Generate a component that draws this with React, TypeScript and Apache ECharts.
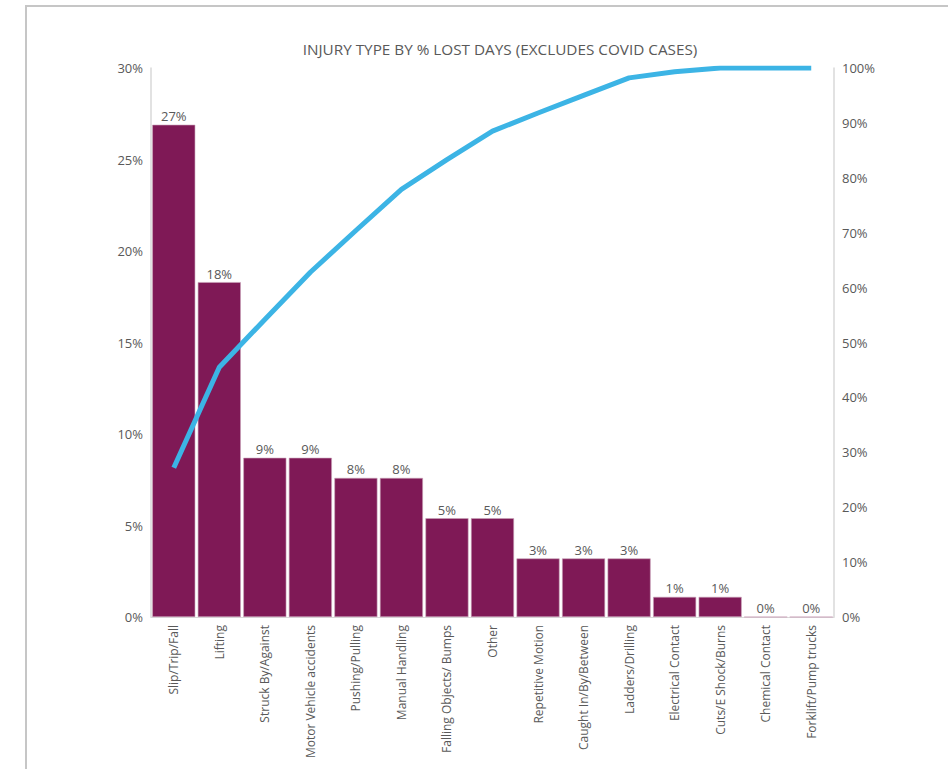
import React, { useEffect, useRef } from "react";
import * as echarts from "echarts";

const categories = [
  "Slip/Trip/Fall",
  "Lifting",
  "Struck By/Against",
  "Motor Vehicle accidents",
  "Pushing/Pulling",
  "Manual Handling",
  "Falling Objects/ Bumps",
  "Other",
  "Repetitive Motion",
  "Caught In/By/Between",
  "Ladders/Drilling",
  "Electrical Contact",
  "Cuts/E Shock/Burns",
  "Chemical Contact",
  "Forklift/Pump trucks",
];
const pctLostDays = [26.9, 18.3, 8.7, 8.7, 7.6, 7.6, 5.4, 5.4, 3.2, 3.2, 3.2, 1.1, 1.1, 0, 0];
const cumulativePct = [27.2, 45.5, 54.2, 62.8, 70.4, 77.9, 83.3, 88.5, 91.8, 95.0, 98.2, 99.3, 100, 100, 100];
const leftTicks = [0, 5, 10, 15, 20, 25, 30];
const rightTicks = [0, 10, 20, 30, 40, 50, 60, 70, 80, 90, 100];

const FONT = "'Open Sans', Lato, sans-serif";
const TEXT = "#595959";

export default function App() {
  const ref = useRef<HTMLDivElement>(null);
  useEffect(() => {
    if (!ref.current) return;
    const chart = echarts.init(ref.current, undefined, { renderer: "svg" });
    chart.setOption({
      animation: false,
      backgroundColor: "#ffffff",
      textStyle: { fontFamily: FONT },
      title: {
        text: "INJURY TYPE BY % LOST DAYS (EXCLUDES COVID CASES)",
        left: 495,
        textAlign: "center",
        top: 36,
        textStyle: { fontFamily: FONT, fontSize: 15.3, fontWeight: "normal", color: TEXT },
      },
      graphic: [
        {
          type: "polyline",
          shape: { points: [[26, 769], [26, 6], [948, 6]] },
          style: { stroke: "#c6c6c6", lineWidth: 2, fill: "none" },
          silent: true,
        },
      ],
      grid: { left: 151, right: 114, top: 68, bottom: 152 },
      xAxis: {
        type: "category",
        data: categories,
        axisLine: { show: true, lineStyle: { color: "#d9d9d9", width: 1 } },
        axisTick: { show: false },
        axisLabel: {
          rotate: 90,
          interval: 0,
          color: TEXT,
          fontSize: 12,
          fontFamily: FONT,
          margin: 8,
        },
      },
      yAxis: [
        {
          type: "value",
          min: leftTicks[0],
          max: leftTicks[leftTicks.length - 1],
          interval: 5,
          axisLine: { show: true, lineStyle: { color: "#d9d9d9", width: 1.5 } },
          axisTick: { show: false },
          splitLine: { show: false },
          axisLabel: { formatter: "{value}%", color: TEXT, fontSize: 13, fontFamily: FONT, margin: 8 },
        },
        {
          type: "value",
          min: rightTicks[0],
          max: rightTicks[rightTicks.length - 1],
          interval: 10,
          position: "right",
          axisLine: { show: true, lineStyle: { color: "#d9d9d9", width: 1.5 } },
          axisTick: { show: false },
          splitLine: { show: false },
          axisLabel: { formatter: "{value}%", color: TEXT, fontSize: 13, fontFamily: FONT, margin: 8 },
        },
      ],
      series: [
        {
          type: "bar",
          data: pctLostDays,
          yAxisIndex: 0,
          barCategoryGap: "5.5%",
          itemStyle: { color: "#7f1956", borderColor: "#c9a3b9", borderWidth: 0.6 },
          label: {
            show: true,
            position: "top",
            distance: 2,
            color: TEXT,
            fontSize: 13,
            fontFamily: FONT,
            formatter: (p: any) => Math.round(p.value) + "%",
          },
          z: 2,
        },
        {
          type: "line",
          data: cumulativePct,
          yAxisIndex: 1,
          showSymbol: false,
          symbol: "none",
          lineStyle: { color: "#3cb4e5", width: 5 },
          itemStyle: { color: "#3cb4e5" },
          z: 5,
        },
      ],
    });
    return () => chart.dispose();
  }, []);
  return (
    <div
      ref={ref}
      style={{ position: "fixed", left: 0, top: 0, width: 948, height: 769 }}
    />
  );
}
